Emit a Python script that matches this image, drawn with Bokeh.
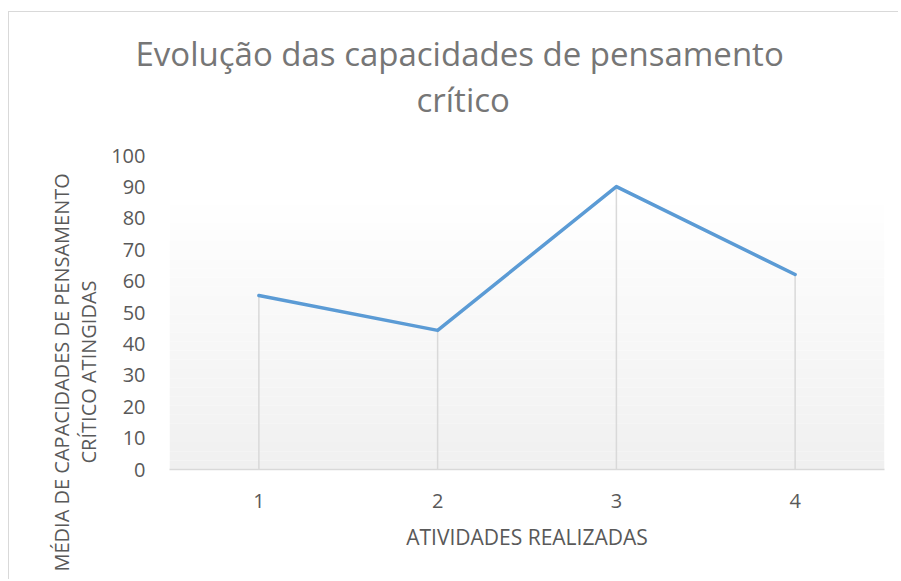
import numpy as np
from bokeh.plotting import figure
from bokeh.models import Range1d, FixedTicker, Title
from bokeh.embed import file_html
from bokeh.resources import INLINE

# ---- data ----
atividades = [1, 2, 3, 4]
media = [55.4, 44.3, 90.1, 62.1]
y_ticks = list(range(0, 101, 10))
titulo = ["Evolução das capacidades de pensamento", "crítico"]
y_label = ["MÉDIA DE  CAPACIDADES DE PENSAMENTO", "CRÍTICO ATINGIDAS"]
x_label = "ATIVIDADES REALIZADAS"

FONT = "Open Sans"
# chart frame starts at (9, 12) on the page (border line at x=8, y=11)
OX, OY = 9, 12
W, H = 890, 568
p = figure(width=W, height=H, output_backend="svg", toolbar_location=None,
           x_range=Range1d(0.5, 4.5), y_range=Range1d(0, 100),
           min_border_left=169 - OX, min_border_right=OX + W - 884,
           min_border_top=155 - OY, min_border_bottom=OY + H - 469)
p.styles = {"margin-left": "8px", "margin-top": "11px",
            "border-left": "1px solid #d9d9d9", "border-top": "1px solid #d9d9d9"}
p.outline_line_color = None
p.background_fill_color = "white"
p.border_fill_color = "white"
p.xgrid.visible = False
p.ygrid.visible = False

# gradient plot-area fill
n = 30
top = 87.3
edges = np.linspace(0, top, n + 1)
cols = []
for i in range(n):
    t = (i + 0.5) / n
    v = int(round(240 + 15 * t))
    cols.append("#%02x%02x%02x" % (v, v, v))
p.quad(left=0.5, right=4.5, bottom=edges[:-1], top=edges[1:], fill_color=cols,
       line_color=None)

# drop lines + series
p.segment(x0=atividades, y0=[0] * len(atividades), x1=atividades, y1=media,
          line_color="#d9d9d9", line_width=1.5)
p.line(atividades, media, line_color="#5b9bd5", line_width=3.5,
       line_cap="round", line_join="round")

# axes
p.xaxis.ticker = FixedTicker(ticks=atividades)
p.yaxis.ticker = FixedTicker(ticks=y_ticks)
for ax in (p.xaxis[0], p.yaxis[0]):
    ax.major_tick_line_color = None
    ax.minor_tick_line_color = None
    ax.major_label_text_font = FONT
    ax.major_label_text_font_size = "20px"
    ax.major_label_text_color = "#595959"
p.yaxis.axis_line_color = None
p.xaxis.axis_line_color = "#d9d9d9"
p.xaxis.axis_line_width = 1.5
p.yaxis.major_label_standoff = 18
p.xaxis.major_label_standoff = 18
p.xaxis.axis_label = x_label
p.xaxis.axis_label_text_font = FONT
p.xaxis.axis_label_text_font_size = "21px"
p.xaxis.axis_label_text_font_style = "normal"
p.xaxis.axis_label_text_color = "#595959"
p.xaxis.axis_label_standoff = 12

# title: spacer, line 2, line 1 (stacked outward from the frame)
p.add_layout(Title(text=" ", text_font_size="2px", standoff=30), "above")
p.add_layout(Title(text=titulo[1], text_font=FONT, text_font_size="33px",
                   text_font_style="normal", text_color="#767676",
                   align="left", offset=247, standoff=0,
                   vertical_align="bottom"), "above")
p.add_layout(Title(text=titulo[0], text_font=FONT, text_font_size="33px",
                   text_font_style="normal", text_color="#767676",
                   align="left", offset=-34, standoff=-2,
                   vertical_align="bottom"), "above")

# y-axis label as left titles
p.add_layout(Title(text=y_label[1], text_font=FONT, text_font_size="20px",
                   text_font_style="normal", text_color="#595959",
                   align="left", offset=6, standoff=13,
                   vertical_align="bottom"), "left")
p.add_layout(Title(text=y_label[0], text_font=FONT, text_font_size="20px",
                   text_font_style="normal", text_color="#595959",
                   align="left", offset=-102, standoff=-17,
                   vertical_align="bottom"), "left")

open("out.html", "w").write(file_html(p, INLINE))
